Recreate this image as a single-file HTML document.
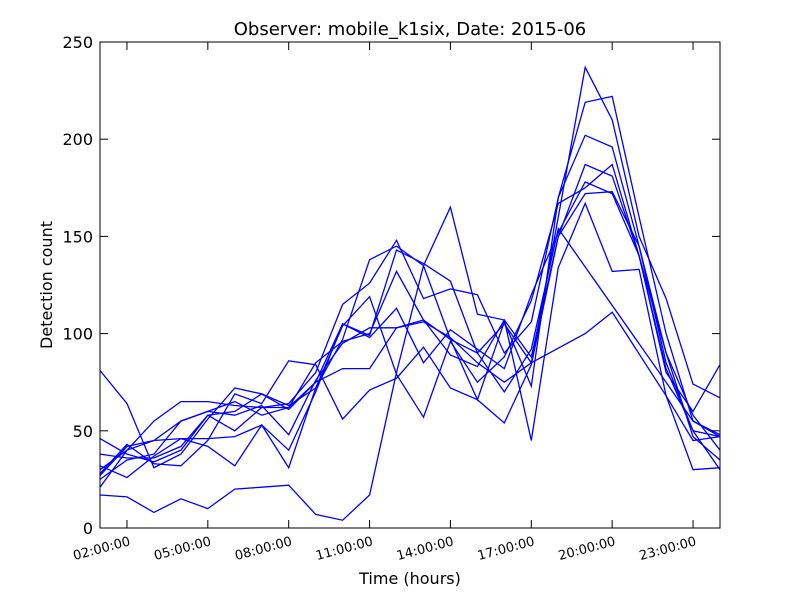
<!DOCTYPE html>
<html><head><meta charset="utf-8"><style>body{margin:0;background:#fff}svg{font-family:"DejaVu Sans","Liberation Sans",sans-serif}</style></head>
<body>
<svg id="chart" width="800" height="600" xmlns="http://www.w3.org/2000/svg">
<rect width="800" height="600" fill="#fff"/>
<text x="410" y="35" font-size="18" text-anchor="middle">Observer: mobile_k1six, Date: 2015-06</text>
<g id="lines"></g>
<rect x="100" y="42" width="620" height="486" fill="none" stroke="#000" stroke-width="1"/>
<g id="axes"></g>
<text x="410" y="584" font-size="16" text-anchor="middle">Time (hours)</text>
<text x="52" y="285" font-size="16" text-anchor="middle" transform="rotate(-90 52 285)">Detection count</text>
</svg>
<script>
const hours = [1,2,3,4,5,6,7,8,9,10,11,12,13,14,15,16,17,18,19,20,21,22,23,24];
const s1 = [81,64,31,38,56,72,69,61,75,105,99,143,136,127,90,105,85,160,237,210,150,118,74,67];
const s2 = [30,40,55,65,65,63,62,64,80,115,126,148,118,123,120,90,106,170,219,222,160,100,55,48];
const s3 = [46,38,34,40,58,60,69,63,72,97,138,145,135,97,66,106,73,170,202,196,145,85,50,30];
const s4 = [17,16,8,15,10,20,21,22,7,4,17,80,135,165,110,107,45,134,167,132,133,68,30,31];
const s5 = [25,35,38,55,60,58,63,48,76,95,103,103,106,98,85,75,85,null,100,111,null,68,45,47];
const s6 = [27,42,45,55,60,65,58,62,85,96,100,132,107,97,90,70,92,154,null,null,null,75,55,47];
const s7 = [21,40,45,46,46,47,53,40,70,105,98,113,85,102,92,82,120,152,178,172,140,90,58,40];
const s8 = [38,36,36,42,58,50,62,62,75,82,82,103,107,89,83,107,88,150,187,181,140,82,50,47];
const s9 = [32,26,37,46,42,32,53,31,72,104,119,79,57,96,75,88,117,167,175,187,140,80,60,84];
const s10 = [28,43,33,32,45,69,64,86,84,56,71,77,93,72,66,54,84,150,172,173,145,90,47,35];
const series = [s1,s2,s3,s4,s5,s6,s7,s8,s9,s10];
const yTicks = [0,50,100,150,200,250];
const xTicks = [2,5,8,11,14,17,20,23];
const xTickLabels = ["02:00:00","05:00:00","08:00:00","11:00:00","14:00:00","17:00:00","20:00:00","23:00:00"];
const NS="http://www.w3.org/2000/svg";
const X = h => 100 + (h-1)*620/23;
const Y = v => 528 - v*486/250;
const lg=document.getElementById('lines');
series.forEach((s,i)=>{
  const pts=[];
  s.forEach((v,j)=>{ if(v!==null) pts.push(X(hours[j]).toFixed(1)+','+Y(v).toFixed(1)); });
  const p=document.createElementNS(NS,'polyline');
  p.setAttribute('points',pts.join(' '));
  p.setAttribute('fill','none');p.setAttribute('stroke','#0000ff');p.setAttribute('stroke-width','1.3');
  
  
  lg.appendChild(p);
});
const ag=document.getElementById('axes');
yTicks.forEach(v=>{
  const y=Y(v);
  [[100,108],[712,720]].forEach(([a,b])=>{
    const l=document.createElementNS(NS,'line');
    l.setAttribute('x1',a);l.setAttribute('x2',b);l.setAttribute('y1',y);l.setAttribute('y2',y);l.setAttribute('stroke','#000');
    
    
    ag.appendChild(l);
  });
  const t=document.createElementNS(NS,'text');
  t.setAttribute('x',93);t.setAttribute('y',y+6);t.setAttribute('font-size','16');t.setAttribute('text-anchor','end');
  t.textContent=v;
  
  
  ag.appendChild(t);
});
xTicks.forEach((h,i)=>{
  const x=X(h);
  [[528,520],[42,50]].forEach(([a,b])=>{
    const l=document.createElementNS(NS,'line');
    l.setAttribute('x1',x);l.setAttribute('x2',x);l.setAttribute('y1',a);l.setAttribute('y2',b);l.setAttribute('stroke','#000');
    
    
    ag.appendChild(l);
  });
  const t=document.createElementNS(NS,'text');
  t.setAttribute('x',x+4);t.setAttribute('y',545);t.setAttribute('font-size','13');t.setAttribute('text-anchor','end');
  t.setAttribute('transform','rotate(-15 '+(x+4)+' 545)');
  t.textContent=xTickLabels[i];
  
  
  ag.appendChild(t);
});
</script>
</body></html>
